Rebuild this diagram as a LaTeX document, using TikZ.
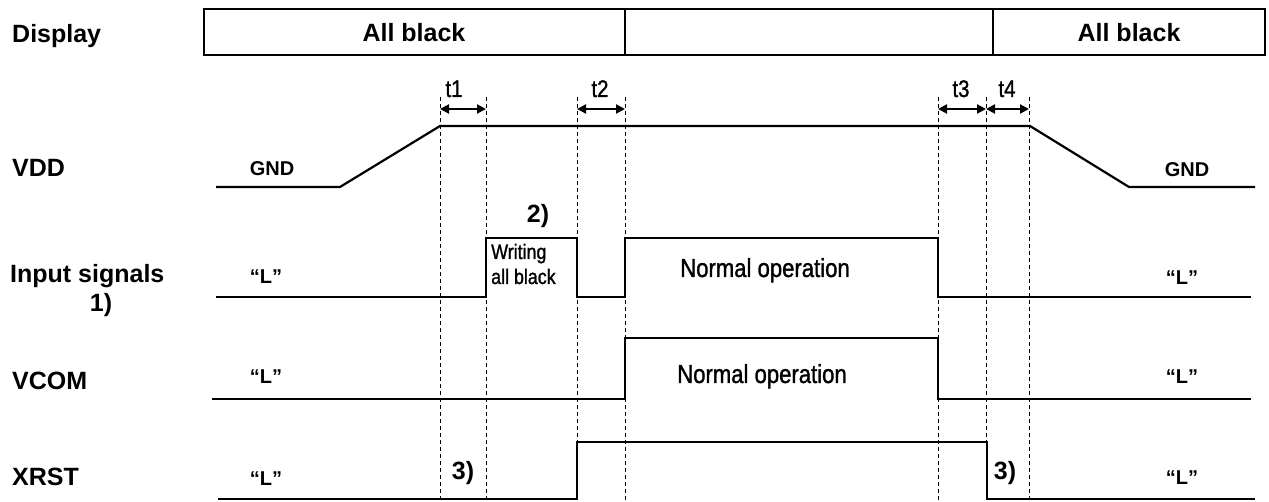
\documentclass[tikz,border=0pt]{standalone}
\usepackage{fontspec}
\setmainfont{Liberation Sans}
\newfontfamily\narrowfont[FakeStretch=0.85,FakeBold=1.2]{Liberation Sans}
\usetikzlibrary{arrows.meta}
\begin{document}
\begin{tikzpicture}[x=1pt,y=-1pt,
  sig/.style={line width=2.2pt,line join=miter},
  guide/.style={line width=1pt,dash pattern=on 4pt off 3pt},
  lbl/.style={font=\fontsize{25}{30}\selectfont\bfseries,anchor=base west,inner sep=0pt},
  mid/.style={font=\fontsize{25}{30}\selectfont\bfseries,anchor=base,inner sep=0pt},
  small/.style={font=\fontsize{20}{24}\selectfont\bfseries,anchor=base,inner sep=0pt},
  nar/.style={font=\narrowfont\fontsize{26}{30}\selectfont,anchor=base,inner sep=0pt},
  nars/.style={font=\narrowfont\fontsize{21}{24}\selectfont,anchor=base west,inner sep=0pt},
  tl/.style={font=\narrowfont\fontsize{24}{28}\selectfont,anchor=base,inner sep=0pt},
  dim/.style={line width=2pt,{Triangle[length=9pt,width=9pt]}-{Triangle[length=9pt,width=9pt]}}]

\useasboundingbox (0,0) rectangle (1269,502);

% guide lines
\foreach \x [count=\i] in {440,486,577,625,938,986,1029}{
  \coordinate (gt\i) at (\x,97);
  \coordinate (gb\i) at (\x,502);
  \draw[guide] (gt\i) -- (gb\i);
}

% display row
\draw[sig] (204,9) rectangle (625,55);
\draw[sig] (625,9) rectangle (993,55);
\draw[sig] (993,9) rectangle (1265,55);
\node[lbl] (disp) at (12,43) {Display};
\node[mid] (ab1) at (414,42) {All black};
\node[mid] (ab2) at (1129,42) {All black};

% timing arrows
\coordinate (a1) at (440,109); \coordinate (a2) at (486,109);
\coordinate (a3) at (577,109); \coordinate (a4) at (625,109);
\coordinate (a5) at (938,109); \coordinate (a6) at (986,109);
\coordinate (a7) at (1029,109);
\draw[dim] (a1) -- (a2);
\draw[dim] (a3) -- (a4);
\draw[dim] (a5) -- (a6);
\draw[dim] (a6) -- (a7);
\node[tl] (t1) at (454,97) {t1};
\node[tl] (t2) at (600,97) {t2};
\node[tl] (t3) at (961,97) {t3};
\node[tl] (t4) at (1007,97) {t4};

% VDD
\node[lbl] (vdd) at (12,177) {VDD};
\draw[sig] (216,187) -- (340,187) -- (440,126) -- (1030,126) -- (1129,187) -- (1255,187);
\node[small] (gnd1) at (272,176) {GND};
\node[small] (gnd2) at (1187,177) {GND};

% Input signals
\node[lbl] (inp) at (10,283) {Input signals};
\node[mid] (n1) at (101,312) {1)};
\draw[sig] (216,297) -- (486,297) -- (486,238) -- (577,238) -- (577,297) -- (625,297)
  -- (625,238) -- (938,238) -- (938,297) -- (1251,297);
\node[small] (l1) at (266,284) {“L”};
\node[small] (l2) at (1182,285) {“L”};
\node[mid] (n2) at (538,223) {2)};
\node[nars] (wr1) at (491,259) {Writing};
\node[nars] (wr2) at (491,284) {all black};
\node[nar] (no1) at (765,277) {Normal operation};

% VCOM
\node[lbl] (vcom) at (12,389) {VCOM};
\draw[sig] (212,399) -- (625,399) -- (625,338) -- (938,338) -- (938,399) -- (1251,399);
\node[small] (l3) at (266,384) {“L”};
\node[small] (l4) at (1182,384) {“L”};
\node[nar] (no2) at (762,383) {Normal operation};

% XRST
\node[lbl] (xrst) at (12,485) {XRST};
\draw[sig] (218,499) -- (577,499) -- (577,442) -- (987,442) -- (987,499) -- (1255,499);
\node[small] (l5) at (266,485) {“L”};
\node[small] (l6) at (1182,484) {“L”};
\node[mid] (n3a) at (463,479) {3)};
\node[mid] (n3b) at (1005,479) {3)};
\end{tikzpicture}
\end{document}
